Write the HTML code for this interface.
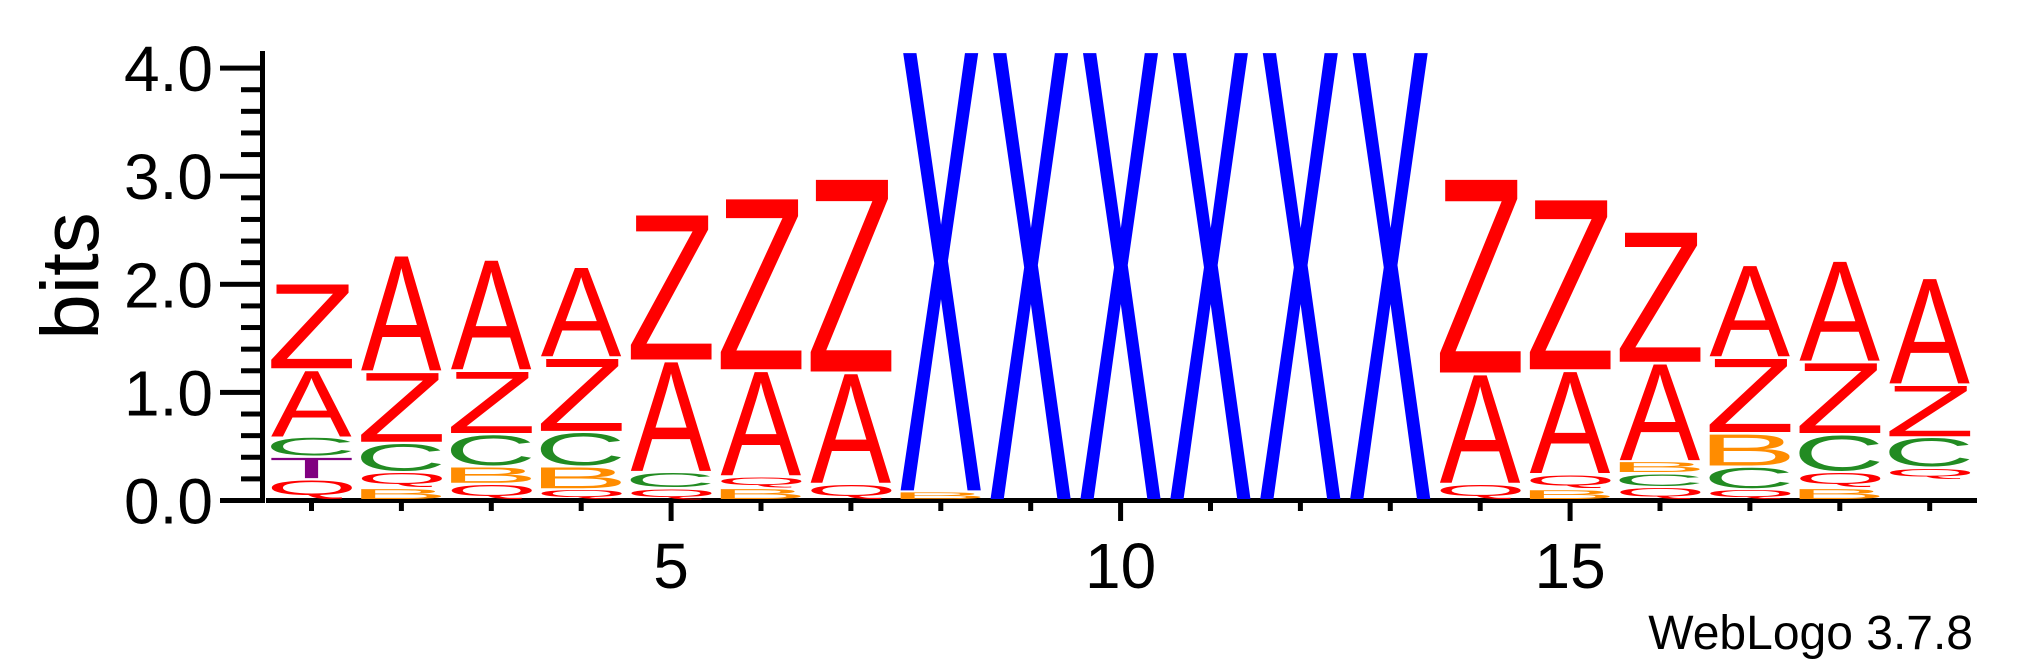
<!DOCTYPE html>
<html><head><meta charset="utf-8">
<style>
html,body{margin:0;padding:0;background:#fff;}
svg{display:block;}
text{font-family:"Liberation Sans",Arial,sans-serif;}
</style></head>
<body>
<svg id="chart" width="2025" height="667" viewBox="0 0 2025 667" xmlns="http://www.w3.org/2000/svg">
  <g id="axes"></g>
  <g id="stacks"></g>
  <text x="0" y="0" font-size="82" text-anchor="middle" transform="translate(98,276) rotate(-90)">bits</text>
  <text x="1973" y="649" font-size="48" text-anchor="end">WebLogo 3.7.8</text>
</svg>
<script>
// ---- data ----
const positions = [1,2,3,4,5,6,7,8,9,10,11,12,13,14,15,16,17,18,19];
const stackLetters = [
  ["Q","T","C","A","Z"],
  ["B","Q","C","Z","A"],
  ["Q","B","C","Z","A"],
  ["Q","B","C","Z","A"],
  ["Q","C","A","Z"],
  ["B","Q","A","Z"],
  ["Q","A","Z"],
  ["B","X"],
  ["X"],["X"],["X"],["X"],["X"],
  ["Q","A","Z"],
  ["B","Q","A","Z"],
  ["Q","C","B","A","Z"],
  ["Q","C","B","Z","A"],
  ["B","Q","C","Z","A"],
  ["_","Q","C","Z","A"]
];
const stackHeights = [
  [0.19,0.21,0.18,0.63,0.80],
  [0.11,0.15,0.27,0.66,1.08],
  [0.15,0.16,0.30,0.59,1.03],
  [0.10,0.21,0.32,0.69,0.84],
  [0.11,0.15,1.03,1.36],
  [0.11,0.11,0.98,1.60],
  [0.15,1.03,1.80],
  [0.08,4.08],
  [4.16],[4.16],[4.16],[4.16],[4.16],
  [0.15,1.02,1.81],
  [0.10,0.14,0.96,1.59],
  [0.12,0.13,0.11,0.91,1.22],
  [0.10,0.21,0.31,0.70,0.86],
  [0.11,0.15,0.35,0.67,0.94],
  [0.19,0.11,0.28,0.49,0.99]
];
const yTickLabels = ["0.0","1.0","2.0","3.0","4.0"];
const yMajorValues = [0,1,2,3,4];
const xLabelValues = [5,10,15];

// ---- scales ----
const NS = "http://www.w3.org/2000/svg";
const Y0 = 500.5, PXPERBIT = 108.1;
const X1 = 311.5, PXPERPOS = 89.9;
const COLW = 81;
const GAP = 1.5;
function yScale(v){ return Y0 - v*PXPERBIT; }
function xScale(p){ return X1 + (p-1)*PXPERPOS; }
const colors = {A:"#ff0000",Z:"#ff0000",Q:"#ff0000",C:"#228b22",B:"#ff8c00",T:"#800080",X:"#0000ff"};

function mk(tag, attrs, parent){
  const e = document.createElementNS(NS, tag);
  for (const k in attrs) e.setAttribute(k, attrs[k]);
  parent.appendChild(e);
  return e;
}

// ---- axes ----
const axes = document.getElementById("axes");
let e;
e = mk("rect",{x:260,y:51,width:5,height:452,fill:"#000"},axes);


e = mk("rect",{x:266,y:498,width:1711,height:5,fill:"#000"},axes);


for (let i=0;i<=20;i++){
  const v = i*0.2;
  const major = (i%5===0);
  const y = yScale(v);
  e = mk("rect",{x: major?220:241, y: y-2.5, width: major?42:21, height:5, fill:"#000"},axes);
  
  
}
yMajorValues.forEach((v,i)=>{
  const t = mk("text",{x:213,y:yScale(v)+23,"font-size":64,"text-anchor":"end"},axes);
  t.textContent = yTickLabels[i];
  
  
});
positions.forEach(p=>{
  const major = xLabelValues.indexOf(p) >= 0;
  e = mk("rect",{x:xScale(p)-2.5,y:503,width:5,height: major?18:8,fill:"#000"},axes);
  
  
});
xLabelValues.forEach(p=>{
  const t = mk("text",{x:xScale(p),y:588,"font-size":64,"text-anchor":"middle"},axes);
  t.textContent = String(p);
  
  
});

// ---- letters ----
const cv = document.createElement("canvas").getContext("2d");
cv.font = '100px "Liberation Sans", Arial, sans-serif';
const metrics = {};
function m(ch){
  if (!metrics[ch]){
    const tm = cv.measureText(ch);
    const l = tm.actualBoundingBoxLeft, r = tm.actualBoundingBoxRight;
    const a = tm.actualBoundingBoxAscent, d = tm.actualBoundingBoxDescent;
    metrics[ch] = {left:-l, w:(r+l)||60, asc:a||70, desc:d||0};
  }
  return metrics[ch];
}
const stacks = document.getElementById("stacks");
positions.forEach((p,i)=>{
  const g = mk("g",{},stacks);
  
  
  let base = 0;
  stackLetters[i].forEach((ch,j)=>{
    const h = stackHeights[i][j];
    const yb = yScale(base) - GAP, yt = yScale(base+h) + (h > 0.3 ? 1 : 0.5);
    base += h;
    if (ch === "_") return;
    const hp = Math.max(1, yb - yt);
    const mm = m(ch);
    const sx = COLW / mm.w;
    const sy = hp / (mm.asc + mm.desc);
    const left = xScale(p) - COLW/2;
    const t = mk("text",{
      x:0, y:0, "font-size":100, fill:colors[ch],
      transform:`translate(${left - mm.left*sx},${yb - mm.desc*sy}) scale(${sx},${sy})`
    },g);
    t.textContent = ch;
    
    
  });
});
</script>
</body></html>
